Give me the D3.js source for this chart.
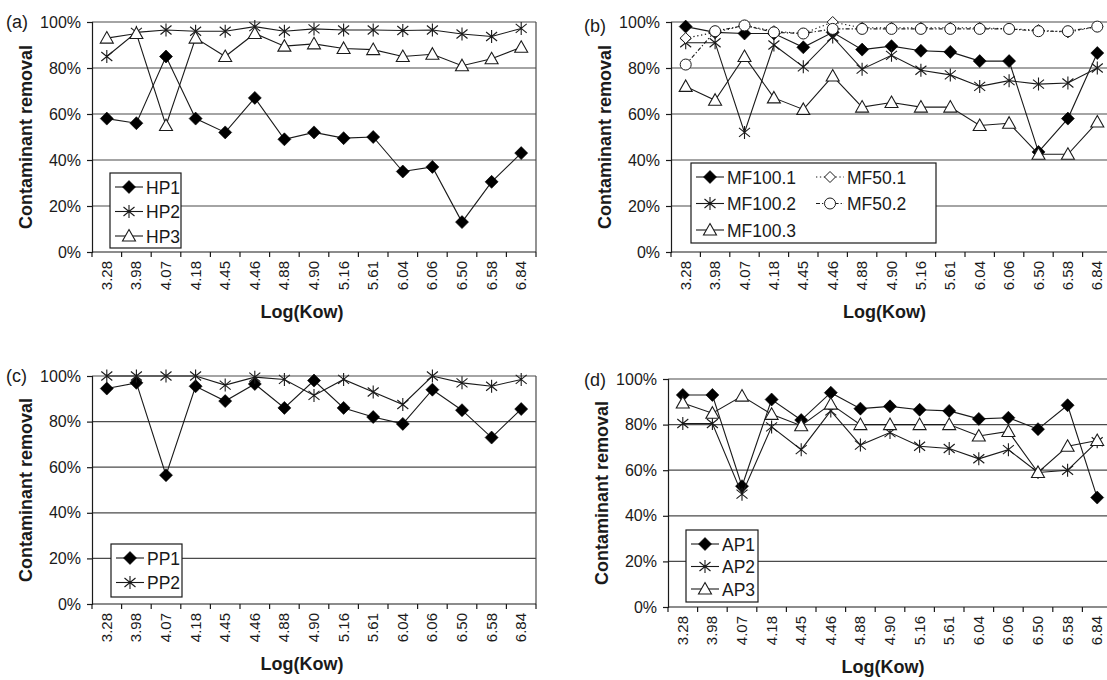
<!DOCTYPE html>
<html>
<head>
<meta charset="utf-8">
<script src="https://cdn.jsdelivr.net/npm/d3@7"></script>
<style>
body { margin: 0; background: #fff; }
svg { display: block; font-family: "Liberation Sans", Arial, sans-serif; }
</style>
</head>
<body>
<svg id="chart" width="1107" height="680"></svg>
<script>
// categories (Log Kow)
const kow = ["3.28","3.98","4.07","4.18","4.45","4.46","4.88","4.90","5.16","5.61","6.04","6.06","6.50","6.58","6.84"];
const yTicks = [0, 20, 40, 60, 80, 100];

// (a) HP
const hp1 = [58, 56, 85, 58, 52, 67, 49, 52, 49.5, 50, 35, 37, 13, 30.5, 43];
const hp2 = [85, 95.5, 96.5, 96, 96, 98, 96, 97, 96.5, 96.5, 96.3, 96.5, 94.8, 93.7, 97.2];
const hp3 = [93, 95, 55, 93, 85, 95, 89.5, 90.5, 88.5, 88, 85, 86, 81, 84, 89];
// (b) MF
const mf100_1 = [98, 95.5, 95, 95, 89, 95.5, 88, 89.5, 87.5, 87, 83, 83, 43.5, 58, 86.5];
const mf100_2 = [91, 91, 52, 90, 80.5, 93.5, 79.5, 85.5, 79, 77, 72, 74.5, 73, 73.5, 80];
const mf100_3 = [72, 66, 85, 67, 62, 76.5, 63, 65, 63, 63, 55, 56, 42.5, 42.5, 56.5];
const mf50_1 = [93, 95.5, 98.5, 96, 95, 100, 97.5, 97.5, 97.5, 97.5, 97.5, 97, 96.5, 95.5, 98];
const mf50_2 = [81.5, 96, 98.5, 95.5, 95, 97, 97, 97, 97, 97, 97, 97, 96, 96, 98];
// (c) PP
const pp1 = [94.5, 97, 56.5, 95.5, 89, 96.5, 86, 98, 86, 82, 79, 94, 85, 73, 85.5];
const pp2 = [100, 100, 100, 100, 96, 99.5, 98.5, 91.5, 98.5, 93, 87.5, 100, 97, 95.5, 98.5];
// (d) AP
const ap1 = [93, 93, 53, 91, 82, 94, 87, 88, 86.5, 86, 82.5, 83, 78, 88.5, 48];
const ap2 = [80.5, 80.5, 49.5, 79, 69, 86, 71, 76.5, 70.5, 69.5, 65, 69, 59, 60, 72.5];
const ap3 = [89.5, 85, 92.5, 84.5, 79.5, 89, 80, 80, 80, 80, 75, 77, 59, 70.5, 73];

const ink = "#1a1a1a";
const svg = d3.select("#chart");

const panels = [
  { tag: "(a)", tagX: 6, tagY: 28, x0: 92, x1: 536, y0: 22, y1: 252,
    series: [
      { name: "HP1", values: hp1, marker: "diamond" },
      { name: "HP2", values: hp2, marker: "star" },
      { name: "HP3", values: hp3, marker: "triangle" }
    ],
    legend: { x: 110, y: 173, w: 71, h: 75, rows: 3, rowH: 24.5, colW: 0 } },
  { tag: "(b)", tagX: 584, tagY: 32, x0: 671, x1: 1112, y0: 22, y1: 252,
    series: [
      { name: "MF100.1", values: mf100_1, marker: "diamond" },
      { name: "MF100.2", values: mf100_2, marker: "star" },
      { name: "MF100.3", values: mf100_3, marker: "triangle" },
      { name: "MF50.1", values: mf50_1, marker: "odiamond", dash: "1.3,2.6" },
      { name: "MF50.2", values: mf50_2, marker: "circle", dash: "4,2,1.3,2" }
    ],
    legend: { x: 691, y: 163, w: 245, h: 80, rows: 3, rowH: 26.5, colW: 120 } },
  { tag: "(c)", tagX: 6, tagY: 382, x0: 92, x1: 536, y0: 376, y1: 604,
    series: [
      { name: "PP1", values: pp1, marker: "diamond" },
      { name: "PP2", values: pp2, marker: "star" }
    ],
    legend: { x: 111, y: 544, w: 71, h: 53, rows: 2, rowH: 24.5, colW: 0 } },
  { tag: "(d)", tagX: 584, tagY: 386, x0: 668, x1: 1112, y0: 379, y1: 607,
    series: [
      { name: "AP1", values: ap1, marker: "diamond" },
      { name: "AP2", values: ap2, marker: "star" },
      { name: "AP3", values: ap3, marker: "triangle" }
    ],
    legend: { x: 686, y: 530, w: 72, h: 72, rows: 3, rowH: 22.5, colW: 0 } }
];

function drawMarker(g, type, x, y) {
  if (type === "diamond") {
    g.append("path").attr("d", `M${x},${y - 6.5}L${x + 6.5},${y}L${x},${y + 6.5}L${x - 6.5},${y}Z`)
      .attr("fill", "#000").attr("stroke", "#000").attr("stroke-width", 0.6);
  } else if (type === "odiamond") {
    g.append("path").attr("d", `M${x},${y - 5.5}L${x + 5.5},${y}L${x},${y + 5.5}L${x - 5.5},${y}Z`)
      .attr("fill", "#fff").attr("stroke", ink).attr("stroke-width", 1);
  } else if (type === "circle") {
    g.append("circle").attr("cx", x).attr("cy", y).attr("r", 5.5)
      .attr("fill", "#fff").attr("stroke", ink).attr("stroke-width", 1);
  } else if (type === "triangle") {
    g.append("path").attr("d", `M${x},${y - 6.5}L${x + 6.5},${y + 5}L${x - 6.5},${y + 5}Z`)
      .attr("fill", "#fff").attr("stroke", ink).attr("stroke-width", 1.1);
  } else if (type === "star") {
    g.append("path").attr("d",
      `M${x},${y - 6.5}L${x},${y + 6.5}M${x - 5.5},${y - 4.5}L${x + 5.5},${y + 4.5}M${x - 5.5},${y + 4.5}L${x + 5.5},${y - 4.5}`)
      .attr("fill", "none").attr("stroke", ink).attr("stroke-width", 1.1);
  }
}

panels.forEach(p => {
  const g = svg.append("g");
  const x = d3.scaleBand().domain(kow).range([p.x0, p.x1]).paddingInner(0).paddingOuter(0);
  const y = d3.scaleLinear().domain([0, 100]).range([p.y1, p.y0]);

  // gridlines
  g.selectAll(".grid").data(yTicks.filter(d => d > 0)).join("line")
    .attr("x1", p.x0).attr("x2", p.x1)
    .attr("y1", d => y(d)).attr("y2", d => y(d))
    .attr("stroke", "#4a4a4a").attr("stroke-width", 1.2);
  // right border
  g.append("line").attr("x1", p.x1).attr("x2", p.x1).attr("y1", p.y0).attr("y2", p.y1)
    .attr("stroke", "#4a4a4a").attr("stroke-width", 1.2);

  // y axis
  const ya = g.append("g").attr("transform", `translate(${p.x0},0)`)
    .call(d3.axisLeft(y).tickValues(yTicks).tickFormat(d => d + "%").tickSize(5).tickPadding(6));
  ya.select(".domain").attr("stroke", ink).attr("stroke-width", 1.2);
  ya.selectAll(".tick line").attr("stroke", ink).attr("stroke-width", 1.2);
  ya.selectAll(".tick text").attr("font-size", 16).attr("fill", ink)
    .attr("font-family", "Liberation Sans, Arial, sans-serif");

  // x axis line and boundary ticks
  g.append("line").attr("x1", p.x0).attr("x2", p.x1).attr("y1", p.y1).attr("y2", p.y1)
    .attr("stroke", ink).attr("stroke-width", 1.2);
  const bounds = kow.map(k => x(k)).concat([p.x1]);
  g.selectAll(".xt").data(bounds).join("line")
    .attr("x1", d => d).attr("x2", d => d).attr("y1", p.y1).attr("y2", p.y1 + 5)
    .attr("stroke", ink).attr("stroke-width", 1.2);
  g.selectAll(".xl").data(kow).join("text")
    .attr("transform", d => `translate(${x(d) + x.bandwidth() / 2 + 5},${p.y1 + 9}) rotate(-90)`)
    .attr("text-anchor", "end").attr("font-size", 15).attr("fill", ink)
    .text(d => d);

  // axis titles
  g.append("text").attr("x", (p.x0 + p.x1) / 2 - (p.x1 > 1100 ? 7 : 12)).attr("y", p.y1 + 66)
    .attr("text-anchor", "middle").attr("font-size", 18).attr("font-weight", "bold").attr("fill", ink)
    .text("Log(Kow)");
  g.append("text")
    .attr("transform", `translate(${p.x0 - 60},${(p.y0 + p.y1) / 2}) rotate(-90)`)
    .attr("text-anchor", "middle").attr("font-size", 18).attr("font-weight", "bold").attr("fill", ink)
    .text("Contaminant removal");
  g.append("text").attr("x", p.tagX).attr("y", p.tagY).attr("font-size", 18).attr("fill", ink)
    .text(p.tag);

  // series
  const line = d3.line().x((d, i) => x(kow[i]) + x.bandwidth() / 2).y(d => y(d));
  p.series.forEach(s => {
    g.append("path").datum(s.values).attr("d", line)
      .attr("fill", "none").attr("stroke", ink).attr("stroke-width", 1.1)
      .attr("stroke-dasharray", s.dash || null);
    s.values.forEach((v, i) => drawMarker(g, s.marker, x(kow[i]) + x.bandwidth() / 2, y(v)));
  });

  // legend
  const L = p.legend;
  const lg = g.append("g");
  lg.append("rect").attr("x", L.x).attr("y", L.y).attr("width", L.w).attr("height", L.h)
    .attr("fill", "#fff").attr("stroke", ink).attr("stroke-width", 1.2);
  p.series.forEach((s, i) => {
    const col = Math.floor(i / L.rows), row = i % L.rows;
    const lx = L.x + 5 + col * L.colW;
    const ly = L.y + 14 + row * L.rowH;
    lg.append("line").attr("x1", lx).attr("x2", lx + 28).attr("y1", ly).attr("y2", ly)
      .attr("stroke", ink).attr("stroke-width", 1.1).attr("stroke-dasharray", s.dash || null);
    drawMarker(lg, s.marker, lx + 14, ly);
    lg.append("text").attr("x", lx + 31).attr("y", ly + 6.5).attr("font-size", 17.5).attr("fill", ink)
      .text(s.name);
  });
});
</script>
</body>
</html>
